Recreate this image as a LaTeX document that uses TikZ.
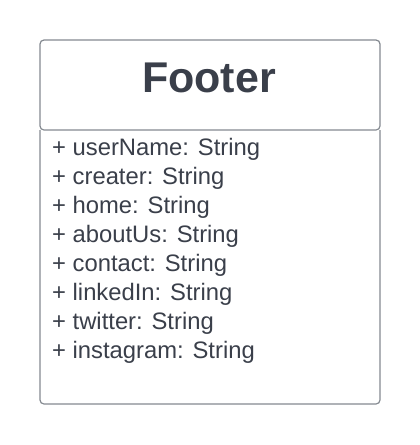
\documentclass[tikz,border=0pt]{standalone}
\usepackage{fontspec}
\setmainfont{Liberation Sans}
\definecolor{txt}{HTML}{3A3F4A}
\definecolor{edge}{HTML}{858A91}
\begin{document}
\begin{tikzpicture}[x=1pt,y=-1pt,
  boxline/.style={draw=edge,line width=1.2pt},
  attr/.style={anchor=base west,inner sep=0pt,text=txt,font=\fontsize{23.8}{28}\selectfont},
  titletext/.style={anchor=base,inner sep=0pt,text=txt,font=\fontsize{43}{50}\selectfont\bfseries}]
\useasboundingbox[fill=white] (0,0) rectangle (420,445);
\draw[boxline,rounded corners=4] (40,40) rectangle (380,130);
\draw[boxline,rounded corners=4] (40,130) -- (40,404) -- (380,404) -- (380,130);
\node[titletext] (title) at (209,92) {Footer};
\node[attr] (a1) at (52,155) {+ userName: String};
\node[attr] (a2) at (52,184) {+ creater: String};
\node[attr] (a3) at (52,213) {+ home: String};
\node[attr] (a4) at (52,242) {+ aboutUs: String};
\node[attr] (a5) at (52,271) {+ contact: String};
\node[attr] (a6) at (52,300) {+ linkedIn: String};
\node[attr] (a7) at (52,329) {+ twitter: String};
\node[attr] (a8) at (52,358) {+ instagram: String};
\end{tikzpicture}
\end{document}
